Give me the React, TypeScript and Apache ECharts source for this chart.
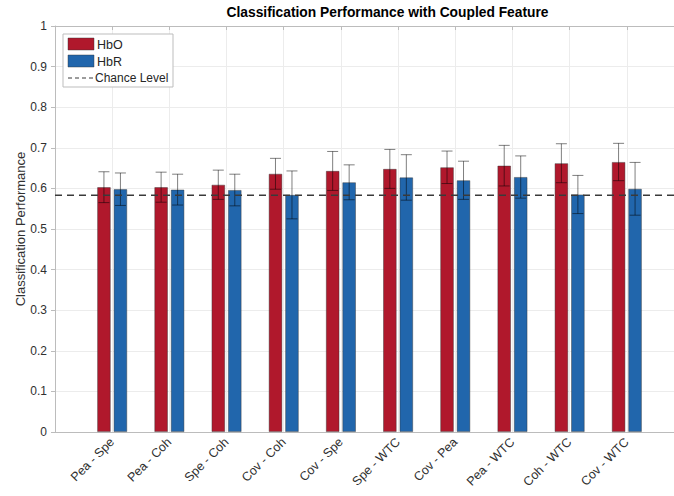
import React, { useEffect, useRef } from "react";
import * as echarts from "echarts";

const categories = [
  "Pea - Spe", "Pea - Coh", "Spe - Coh", "Cov - Coh", "Cov - Spe",
  "Spe - WTC", "Cov - Pea", "Pea - WTC", "Coh - WTC", "Cov - WTC",
];
const hboMean = [0.603, 0.603, 0.609, 0.636, 0.643, 0.648, 0.652, 0.656, 0.662, 0.665];
const hboSd = [0.038, 0.037, 0.036, 0.038, 0.048, 0.048, 0.040, 0.050, 0.048, 0.046];
const hbrMean = [0.598, 0.597, 0.596, 0.584, 0.615, 0.627, 0.620, 0.628, 0.585, 0.599];
const hbrSd = [0.040, 0.038, 0.039, 0.059, 0.043, 0.056, 0.047, 0.052, 0.047, 0.065];
const chanceLevel = 0.583;
const yTicks = [0, 0.1, 0.2, 0.3, 0.4, 0.5, 0.6, 0.7, 0.8, 0.9, 1];

const FONT = "'Liberation Sans', Arial, Helvetica, sans-serif";
const RED = "#B0182C";
const BLUE = "#2166AC";

export default function App() {
  const ref = useRef<HTMLDivElement>(null);
  useEffect(() => {
    if (!ref.current) return;
    const chart = echarts.init(ref.current, null, { renderer: "svg" });
    const barW = 13.5;
    const off = 8.25;
    const errSeries = (mean: number[], sd: number[], shift: number) => ({
      type: "custom",
      z: 5,
      data: mean.map((m, i) => [i + 1, m - sd[i], m + sd[i]]),
      renderItem: (params: any, api: any) => {
        const x = api.value(0);
        const lo = api.coord([x, api.value(1)]);
        const hi = api.coord([x, api.value(2)]);
        const cx = lo[0] + shift;
        const cap = 5.5;
        const st = { stroke: "rgba(0,0,0,0.5)", lineWidth: 1 };
        return {
          type: "group",
          children: [
            { type: "line", shape: { x1: cx, y1: lo[1], x2: cx, y2: hi[1] }, style: st },
            { type: "line", shape: { x1: cx - cap, y1: lo[1], x2: cx + cap, y2: lo[1] }, style: st },
            { type: "line", shape: { x1: cx - cap, y1: hi[1], x2: cx + cap, y2: hi[1] }, style: st },
          ],
        };
      },
    });
    const LZ = 100;
    chart.setOption({
      animation: false,
      backgroundColor: "#ffffff",
      grid: { left: 55, top: 26, width: 629, height: 406, outerBoundsMode: "none", containLabel: false },
      xAxis: [
        {
          type: "value",
          min: 0,
          max: 11,
          interval: 1,
          axisLine: { show: true, lineStyle: { color: "#bcbcbc", width: 1 } },
          axisTick: { show: false },
          splitLine: { show: true, lineStyle: { color: "#ececec", width: 1 } },
          axisLabel: {
            rotate: 45,
            fontSize: 12.5,
            fontFamily: FONT,
            color: "#303030",
            margin: 8,
            showMinLabel: true,
            showMaxLabel: true,
            hideOverlap: false,
            formatter: (v: number) => categories[v - 1] ?? "",
          },
        },
        {
          type: "value",
          position: "top",
          min: 0,
          max: 11,
          interval: 1,
          axisLine: { show: true, lineStyle: { color: "#bcbcbc", width: 1 } },
          axisTick: { show: true, inside: true, length: 4, lineStyle: { color: "#bcbcbc" } },
          splitLine: { show: false },
          axisLabel: { show: false },
        },
      ],
      yAxis: {
        type: "value",
        min: 0,
        max: 1,
        interval: 0.1,
        name: "Classification Performance",
        nameLocation: "middle",
        nameGap: 28,
        nameMoveOverlap: false,
        nameTextStyle: { fontSize: 13, fontFamily: FONT, color: "#303030" },
        axisLine: { show: true, lineStyle: { color: "#bcbcbc", width: 1 } },
        axisTick: { show: true, length: 4, lineStyle: { color: "#bcbcbc" } },
        splitLine: { show: true, lineStyle: { color: "#ececec", width: 1 } },
        axisLabel: {
          fontSize: 12,
          fontFamily: FONT,
          color: "#303030",
          margin: 8,
          formatter: (v: number) => {
            const t = yTicks.find((k) => Math.abs(k - v) < 1e-6);
            return String(t !== undefined ? t : Math.round(v * 10) / 10);
          },
        },
      },
      series: [
        {
          type: "bar",
          name: "HbO",
          barWidth: barW,
          barGap: "22%",
          data: hboMean.map((m, i) => [i + 1, m]),
          itemStyle: { color: RED, borderColor: "rgba(50,50,50,0.55)", borderWidth: 0.8 },
          z: 2,
        },
        {
          type: "bar",
          name: "HbR",
          barWidth: barW,
          data: hbrMean.map((m, i) => [i + 1, m]),
          itemStyle: { color: BLUE, borderColor: "rgba(50,50,50,0.55)", borderWidth: 0.8 },
          z: 2,
        },
        errSeries(hboMean, hboSd, -off),
        errSeries(hbrMean, hbrSd, off),
        {
          type: "line",
          name: "Chance Level",
          data: [[0, chanceLevel], [11, chanceLevel]],
          symbol: "none",
          z: 6,
          lineStyle: { color: "#3a3a3a", width: 1.5, type: [7, 5] },
        },
      ],
      graphic: {
        elements: [
          {
            type: "text",
            x: 387.5,
            y: 12.5,
            style: {
              text: "Classification Performance with Coupled Feature",
              font: `bold 13.8px ${FONT}`,
              fill: "#000",
              align: "center",
              verticalAlign: "middle",
            },
          },
          { type: "rect", z: LZ, shape: { x: 63, y: 34, width: 110, height: 53 }, style: { fill: "#fff", stroke: "#bdbdbd", lineWidth: 1 } },
          { type: "rect", z: LZ + 1, shape: { x: 68, y: 38, width: 26, height: 12 }, style: { fill: RED, stroke: "rgba(50,50,50,0.55)", lineWidth: 0.8 } },
          { type: "text", z: LZ + 1, x: 97, y: 44.5, style: { text: "HbO", font: `12.5px ${FONT}`, fill: "#262626", verticalAlign: "middle" } },
          { type: "rect", z: LZ + 1, shape: { x: 68, y: 55, width: 26, height: 12 }, style: { fill: BLUE, stroke: "rgba(50,50,50,0.55)", lineWidth: 0.8 } },
          { type: "text", z: LZ + 1, x: 97, y: 61.5, style: { text: "HbR", font: `12.5px ${FONT}`, fill: "#262626", verticalAlign: "middle" } },
          { type: "line", z: LZ + 1, shape: { x1: 68, y1: 78, x2: 94, y2: 78 }, style: { stroke: "#3a3a3a", lineWidth: 1, lineDash: [4, 3] } },
          { type: "text", z: LZ + 1, x: 95, y: 78, style: { text: "Chance Level", font: `12px ${FONT}`, fill: "#262626", verticalAlign: "middle" } },
        ],
      },
    });
    return () => chart.dispose();
  }, []);
  return (
    <div
      ref={ref}
      style={{ position: "fixed", left: 0, top: 0, width: 674, height: 496, background: "#fff" }}
    />
  );
}
